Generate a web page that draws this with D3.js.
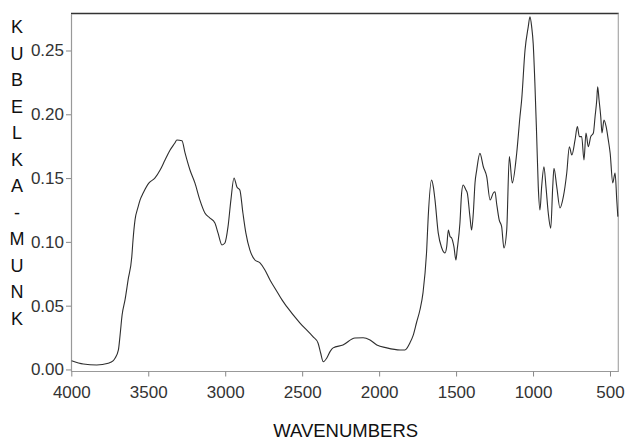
<!DOCTYPE html>
<html>
<head>
<meta charset="utf-8">
<script src="https://cdn.jsdelivr.net/npm/d3@7"></script>
<style>
  body { margin: 0; background: #fff; }
  svg text { font-family: "Liberation Sans", Arial, sans-serif; }
</style>
</head>
<body>
<svg id="chart" width="626" height="441"></svg>
<script>
// spectrum (wavenumber, kubelka-munk)
var wavenumbers = [3998, 3922, 3835, 3760, 3729, 3716, 3694, 3683, 3670, 3651, 3631, 3607, 3599, 3586, 3566, 3553, 3533, 3495, 3456, 3423,
  3391, 3358, 3327, 3314, 3281, 3261, 3229, 3197, 3165, 3132, 3099, 3067, 3047, 3021, 3002, 2982, 2963, 2943, 2924, 2905,
  2885, 2866, 2840, 2807, 2774, 2742, 2709, 2670, 2631, 2600, 2514, 2430, 2397, 2380, 2363, 2340, 2319, 2299, 2235, 2157,
  2104, 2059, 2015, 1950, 1864, 1832, 1800, 1780, 1756, 1735, 1715, 1691, 1681, 1659, 1648, 1637, 1616, 1593, 1572, 1561,
  1550, 1539, 1529, 1514, 1501, 1493, 1475, 1464, 1454, 1436, 1427, 1410, 1399, 1388, 1377, 1366, 1345, 1323, 1301, 1279,
  1258, 1247, 1237, 1220, 1204, 1189, 1171, 1154, 1135, 1106, 1085, 1074, 1052, 1031, 1020, 1009, 999, 988, 977, 966,
  955, 944, 929, 916, 901, 885, 872, 864, 846, 825, 803, 781, 764, 748, 727, 712, 699, 684, 669, 656,
  641, 625, 608, 597, 586, 580, 571, 560, 552, 539, 525, 511, 499, 482, 467, 456, 449];
var kmValues = [0.0069, 0.0043, 0.0035, 0.0049, 0.0067, 0.0088, 0.0153, 0.027, 0.0427, 0.0545, 0.0702, 0.0884, 0.1015, 0.1172, 0.1274, 0.1329, 0.1383, 0.1462, 0.1501, 0.1563,
  0.1642, 0.1720, 0.1775, 0.1799, 0.1793, 0.1697, 0.1563, 0.1462, 0.1329, 0.1226, 0.1187, 0.1148, 0.1070, 0.0976, 0.0991, 0.1117, 0.1329, 0.1501, 0.1430, 0.1407,
  0.1226, 0.1070, 0.0937, 0.0858, 0.0835, 0.0780, 0.0702, 0.0623, 0.0545, 0.0492, 0.0364, 0.0257, 0.0208, 0.0129, 0.0061, 0.0090, 0.0140, 0.0169, 0.0192, 0.0247,
  0.0249, 0.0231, 0.0192, 0.0169, 0.0153, 0.0153, 0.0208, 0.0263, 0.0372, 0.0466, 0.0600, 0.0937, 0.1198, 0.1485, 0.1433, 0.1329, 0.1070, 0.0952, 0.0913, 0.0962,
  0.1093, 0.1041, 0.1031, 0.0962, 0.0858, 0.0937, 0.1148, 0.1383, 0.1446, 0.1407, 0.1383, 0.1198, 0.1093, 0.1226, 0.1462, 0.1563, 0.1694, 0.1589, 0.1511, 0.1329,
  0.1383, 0.1393, 0.1305, 0.1172, 0.1119, 0.0952, 0.1093, 0.1668, 0.1462, 0.1697, 0.1981, 0.2112, 0.2504, 0.2687, 0.2765, 0.2687, 0.2556, 0.2245, 0.1853, 0.1433,
  0.1250, 0.1433, 0.1589, 0.1433, 0.1226, 0.1107, 0.1433, 0.1577, 0.1433, 0.1266, 0.1354, 0.1540, 0.1746, 0.1681, 0.1799, 0.1903, 0.1825, 0.1825, 0.1642, 0.1853,
  0.1746, 0.1825, 0.1853, 0.1981, 0.2112, 0.2216, 0.2112, 0.1981, 0.1853, 0.1955, 0.1903, 0.1799, 0.1697, 0.1462, 0.1540, 0.1329, 0.1198];

var xTicks = [4000, 3500, 3000, 2500, 2000, 1500, 1000, 500];
var yTicks = [0.00, 0.05, 0.10, 0.15, 0.20, 0.25];
var yTitle = "KUBELKA-MUNK";
var xTitle = "WAVENUMBERS";

var plotL = 71, plotR = 618.3, plotT = 13.5, plotB = 371.5;

var x = d3.scaleLinear().domain([4002, 446]).range([plotL, plotR]);
var y = d3.scaleLinear().domain([-0.0016, 0.279]).range([plotB, plotT]);

var svg = d3.select("#chart");

var pts = wavenumbers.map(function(w, i) { return [w, kmValues[i]]; });

// frame: dark top, grey right
svg.append("line")
    .attr("x1", plotL).attr("x2", plotR + 0.5)
    .attr("y1", plotT).attr("y2", plotT)
    .attr("stroke", "#333").attr("stroke-width", 1.4);
svg.append("line")
    .attr("x1", plotR).attr("x2", plotR)
    .attr("y1", plotT).attr("y2", plotB)
    .attr("stroke", "#a8a8a8").attr("stroke-width", 1.2);

// axes
var xAxis = svg.append("g")
    .attr("transform", "translate(0," + plotB + ")")
    .call(d3.axisBottom(x).tickValues(xTicks).tickSize(5).tickSizeOuter(0).tickPadding(9).tickFormat(d3.format("d")));
var yAxis = svg.append("g")
    .attr("transform", "translate(" + plotL + ",0)")
    .call(d3.axisLeft(y).tickValues(yTicks).tickSize(5).tickSizeOuter(0).tickPadding(2).tickFormat(d3.format(".2f")));

[xAxis, yAxis].forEach(function(g) {
  g.select(".domain").attr("stroke", "#999").attr("stroke-width", 1.2);
  g.selectAll(".tick line").attr("stroke", "#888");
  g.selectAll(".tick text")
      .attr("fill", "#333")
      .style("font-size", "17px")
      .style("font-family", "'Liberation Sans', Arial, sans-serif");
});
xAxis.select(".domain").attr("d", "M" + plotL + ",0H" + (plotR + 0.5));

// spectrum
var line = d3.line()
    .x(function(d) { return x(d[0]); })
    .y(function(d) { return y(d[1]); })
    .curve(d3.curveMonotoneX);

svg.append("path")
    .datum(pts)
    .attr("d", line)
    .attr("fill", "none")
    .attr("stroke", "#2e2e2e")
    .attr("stroke-width", 1.1);

// stacked y title
svg.append("g").selectAll("text")
    .data(yTitle.split(""))
  .enter().append("text")
    .attr("x", 17)
    .attr("y", function(d, i) { return 27 + i * 26.5; })
    .attr("dy", "0.36em")
    .attr("text-anchor", "middle")
    .style("font-size", "18px")
    .attr("fill", "#111")
    .text(function(d) { return d; });

svg.append("text")
    .attr("x", (plotL + plotR) / 2 + 1)
    .attr("y", 437)
    .attr("text-anchor", "middle")
    .style("font-size", "18.5px")
    .attr("fill", "#111")
    .text(xTitle);
</script>
</body>
</html>
